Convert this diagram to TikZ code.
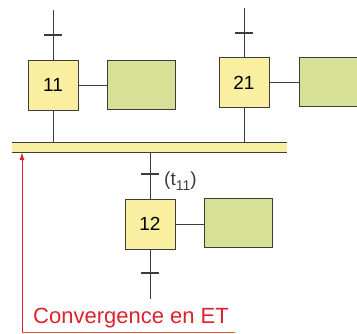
\documentclass[tikz,border=0pt]{standalone}
\usepackage{fontspec}
\setmainfont{Liberation Sans}
\usetikzlibrary{arrows.meta}
\definecolor{stepfill}{RGB}{250,238,160}
\definecolor{actfill}{RGB}{214,224,150}
\definecolor{barfill}{RGB}{246,238,160}
\definecolor{ink}{RGB}{60,60,60}
\definecolor{redlab}{RGB}{222,34,44}
\definecolor{orangelab}{RGB}{235,90,50}
\tikzset{
  stepbox/.style={draw=ink, fill=stepfill, line width=0.8pt, minimum width=50pt, minimum height=50pt, inner sep=0pt, font=\fontsize{19}{19}\selectfont},
  actbox/.style={draw=ink, fill=actfill, line width=0.8pt, minimum width=68pt, minimum height=49pt, inner sep=0pt},
  link/.style={draw=ink, line width=0.8pt},
  tick/.style={draw=ink, line width=1.2pt},
}
\begin{document}
\begin{tikzpicture}[x=1pt,y=-1pt]
\useasboundingbox (0,0) rectangle (357,333);
\clip (0,0) rectangle (357,333);
% bar
\node[fill=barfill, minimum width=275pt, minimum height=9pt, inner sep=0pt] (bar) at (149.5,147.5) {};
\draw[link] (bar.north west) -- (bar.north east);
\draw[link] (bar.south west) -- (bar.south east);
% steps
\node[stepbox] (s11) at (53,85) {11};
\node[stepbox] (s21) at (244,82.5) {21};
\node[stepbox] (s12) at (150,224) {12};
% actions
\node[actbox] (a11) at (141,84.5) {};
\node[actbox] (a21) at (333,82) {};
\node[actbox] (a12) at (238,223) {};
\draw[link] (s11.east) -- (s11.east -| a11.west);
\draw[link] (s21.east) -- (s21.east -| a21.west);
\draw[link] (s12.east) -- (s12.east -| a12.west);
% free ends and transitions
\coordinate (top11) at (53,10);
\coordinate (top21) at (244,8);
\coordinate (tr11) at (53,35);
\coordinate (tr21) at (244,33);
\coordinate (tr12) at (150,174);
\coordinate (tr13) at (150,273);
\coordinate (bot12) at (150,299);
\draw[link] (top11) -- (s11.north);
\draw[link] (top21) -- (s21.north);
\draw[link] (s11.south) -- (s11.south |- bar.north);
\draw[link] (s21.south) -- (s21.south |- bar.north);
\draw[link] (s12.north |- bar.south) -- (s12.north);
\draw[link] (s12.south) -- (bot12);
\draw[tick] ([xshift=-9pt]tr11) -- ([xshift=9pt]tr11);
\draw[tick] ([xshift=-9pt]tr21) -- ([xshift=9pt]tr21);
\draw[tick] ([xshift=-9pt]tr12) -- ([xshift=9pt]tr12);
\draw[tick] ([xshift=-9pt]tr13) -- ([xshift=9pt]tr13);
\node[anchor=base west, inner sep=0pt, text=ink, font=\fontsize{19}{19}\selectfont] (lt11) at (164,185) {(t\raisebox{-5pt}{\fontsize{14}{14}\selectfont 11})};
% label
\coordinate (arrbase) at (22,333);
\draw[redlab, line width=0.9pt, -{Latex[length=8pt,width=5pt]}] (arrbase) -- (arrbase |- bar.south);
\node[anchor=west, inner sep=0pt, text=redlab, font=\fontsize{22}{22}\selectfont] (conv) at (33,318) {Convergence en ET};
\coordinate (ulend) at (235,332.5);
\draw[orangelab, line width=1.5pt] (arrbase |- ulend) -- (ulend);
\end{tikzpicture}
\end{document}
